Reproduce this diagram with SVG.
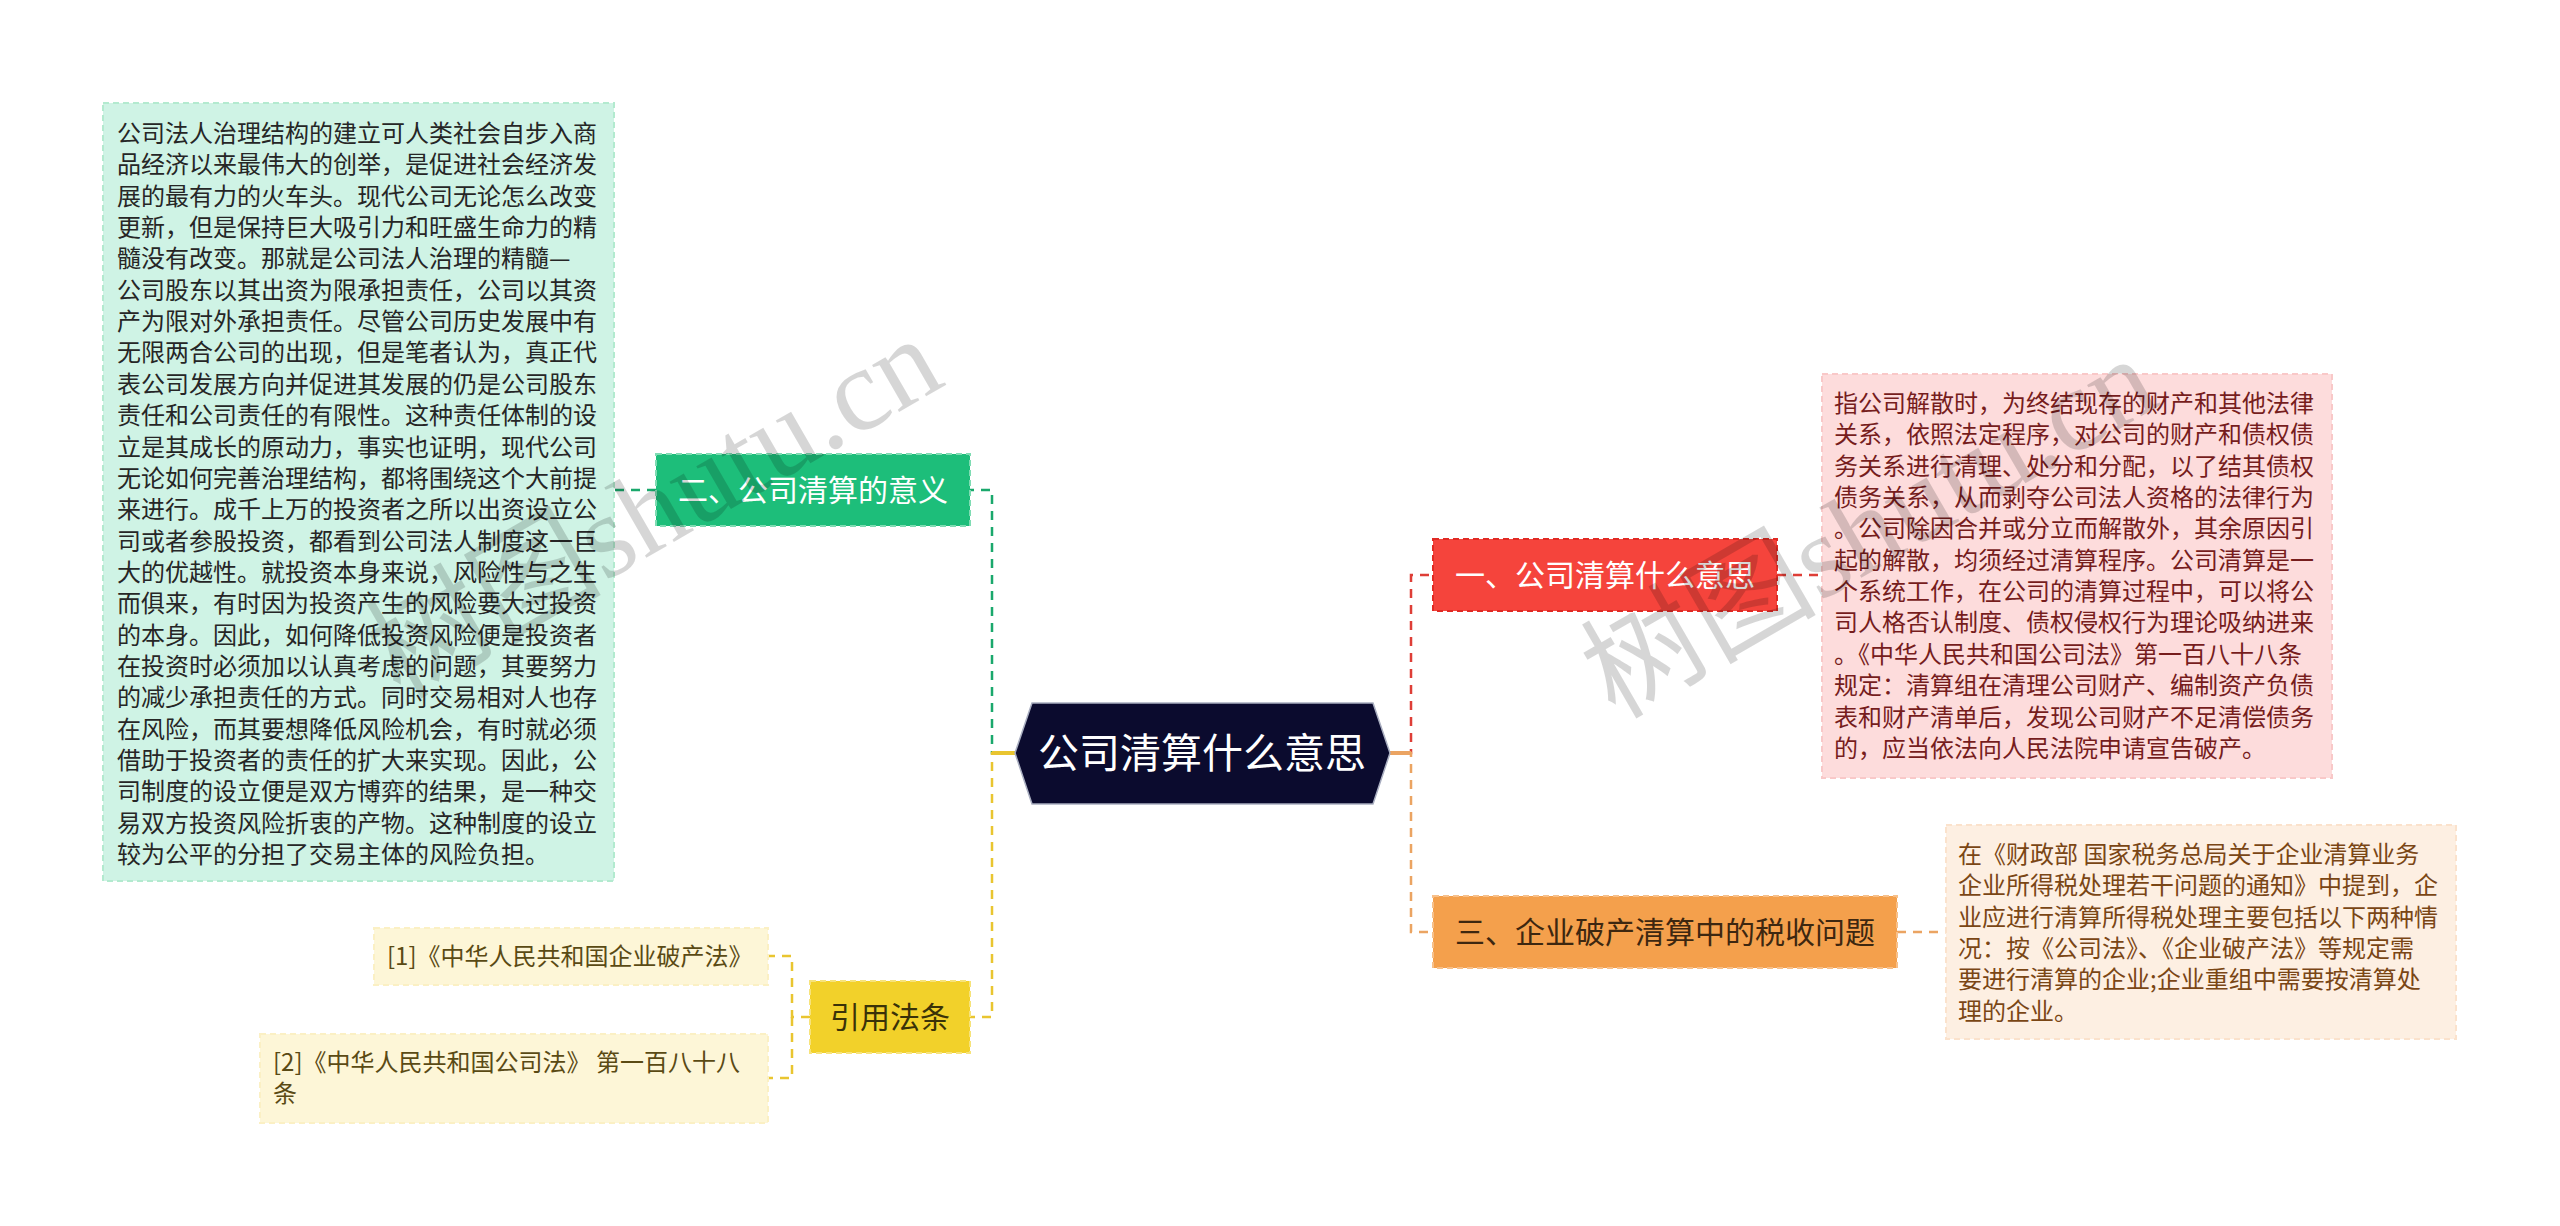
<svg xmlns="http://www.w3.org/2000/svg" width="2560" height="1226" viewBox="0 0 2560 1226">
<style>
text { font-family: "Noto Sans CJK SC", "Noto Sans", sans-serif; }
.body { font-size: 24px; }
.lvl1 { font-size: 30px; text-anchor: middle; }
.root { font-size: 41px; text-anchor: middle; fill: #ffffff; }
.conn { fill: none; stroke-width: 2.5; stroke-dasharray: 9 7; }
.stub { fill: none; stroke-width: 4; }
.box { stroke-width: 2; stroke-dasharray: 6 4; }
.wm { font-family: "Liberation Serif", "Noto Sans CJK SC", serif; font-size: 118px; fill: #000000; fill-opacity: 0.16; }
</style>
<rect x="0" y="0" width="2560" height="1226" fill="#ffffff"/>

<g id="connectors">
  <path class="conn" stroke="#1aa86c" d="M1015 753 H992 V490 H970"/>
  <path class="conn" stroke="#1aa86c" d="M656 490 H614"/>
  <path class="conn" stroke="#e9c530" d="M1015 753 H992 V1017 H970"/>
  <path class="conn" stroke="#e9c530" d="M810 1017 H792 V956 H768"/>
  <path class="conn" stroke="#e9c530" d="M792 1017 V1078 H768"/>
  <path class="conn" stroke="#de3e37" d="M1390 753 H1411 V575 H1433"/>
  <path class="conn" stroke="#de3e37" d="M1777 575 H1822"/>
  <path class="conn" stroke="#eba462" d="M1390 753 H1411 V932 H1433"/>
  <path class="conn" stroke="#eba462" d="M1897 932 H1946"/>
  <path class="stub" stroke="#e9c530" d="M992 753 H1016"/>
  <path class="stub" stroke="#eba462" d="M1389 753 H1411"/>
</g>

<g id="root">
  <polygon points="1015,753 1032,703 1373,703 1390,753 1373,804 1032,804" fill="#0b0b2e" stroke="#a9aec0" stroke-width="1.5"/>
  <text class="root" x="1202" y="768">公司清算什么意思</text>
</g>

<g id="node-meaning">
  <rect x="656" y="454" width="314" height="72" fill="#1dbe7a" stroke="#7fdcb3" class="box"/>
  <text class="lvl1" x="813" y="501" fill="#ffffff">二、公司清算的意义</text>
</g>

<g id="text-meaning">
  <rect x="103" y="103" width="511" height="778" fill="#cff3e5" stroke="#b3eacf" class="box"/>
  <text class="body" fill="#262626">
    <tspan x="117" y="142">公司法人治理结构的建立可人类社会自步入商</tspan>
    <tspan x="117" dy="31.35">品经济以来最伟大的创举，是促进社会经济发</tspan>
    <tspan x="117" dy="31.35">展的最有力的火车头。现代公司无论怎么改变</tspan>
    <tspan x="117" dy="31.35">更新，但是保持巨大吸引力和旺盛生命力的精</tspan>
    <tspan x="117" dy="31.35">髓没有改变。那就是公司法人治理的精髓—</tspan>
    <tspan x="117" dy="31.35">公司股东以其出资为限承担责任，公司以其资</tspan>
    <tspan x="117" dy="31.35">产为限对外承担责任。尽管公司历史发展中有</tspan>
    <tspan x="117" dy="31.35">无限两合公司的出现，但是笔者认为，真正代</tspan>
    <tspan x="117" dy="31.35">表公司发展方向并促进其发展的仍是公司股东</tspan>
    <tspan x="117" dy="31.35">责任和公司责任的有限性。这种责任体制的设</tspan>
    <tspan x="117" dy="31.35">立是其成长的原动力，事实也证明，现代公司</tspan>
    <tspan x="117" dy="31.35">无论如何完善治理结构，都将围绕这个大前提</tspan>
    <tspan x="117" dy="31.35">来进行。成千上万的投资者之所以出资设立公</tspan>
    <tspan x="117" dy="31.35">司或者参股投资，都看到公司法人制度这一巨</tspan>
    <tspan x="117" dy="31.35">大的优越性。就投资本身来说，风险性与之生</tspan>
    <tspan x="117" dy="31.35">而俱来，有时因为投资产生的风险要大过投资</tspan>
    <tspan x="117" dy="31.35">的本身。因此，如何降低投资风险便是投资者</tspan>
    <tspan x="117" dy="31.35">在投资时必须加以认真考虑的问题，其要努力</tspan>
    <tspan x="117" dy="31.35">的减少承担责任的方式。同时交易相对人也存</tspan>
    <tspan x="117" dy="31.35">在风险，而其要想降低风险机会，有时就必须</tspan>
    <tspan x="117" dy="31.35">借助于投资者的责任的扩大来实现。因此，公</tspan>
    <tspan x="117" dy="31.35">司制度的设立便是双方博弈的结果，是一种交</tspan>
    <tspan x="117" dy="31.35">易双方投资风险折衷的产物。这种制度的设立</tspan>
    <tspan x="117" dy="31.35">较为公平的分担了交易主体的风险负担。</tspan>
  </text>
</g>

<g id="node-refs">
  <rect x="810" y="981" width="160" height="72" fill="#f2d12a" stroke="#f7e37a" class="box"/>
  <text class="lvl1" x="890" y="1028" fill="#3a3208">引用法条</text>
</g>

<g id="ref-1">
  <rect x="374" y="928" width="394" height="57" fill="#fdf6d7" stroke="#fbf0c4" class="box"/>
  <text class="body" x="387" y="965" fill="#5a4a14">[1]《中华人民共和国企业破产法》</text>
</g>

<g id="ref-2">
  <rect x="260" y="1034" width="508" height="89" fill="#fdf6d7" stroke="#fbf0c4" class="box"/>
  <text class="body" fill="#5a4a14">
    <tspan x="273" y="1071">[2]《中华人民共和国公司法》 第一百八十八</tspan>
    <tspan x="273" dy="31.35">条</tspan>
  </text>
</g>

<g id="node-what">
  <rect x="1433" y="539" width="344" height="72" fill="#f5443c" stroke="#e02a24" class="box"/>
  <text class="lvl1" x="1605" y="586" fill="#ffffff">一、公司清算什么意思</text>
</g>

<g id="text-what">
  <rect x="1822" y="374" width="510" height="404" fill="#fddcdc" stroke="#f9c8c8" class="box"/>
  <text class="body" fill="#761d1d">
    <tspan x="1834" y="412">指公司解散时，为终结现存的财产和其他法律</tspan>
    <tspan x="1834" dy="31.35">关系，依照法定程序，对公司的财产和债权债</tspan>
    <tspan x="1834" dy="31.35">务关系进行清理、处分和分配，以了结其债权</tspan>
    <tspan x="1834" dy="31.35">债务关系，从而剥夺公司法人资格的法律行为</tspan>
    <tspan x="1834" dy="31.35">。公司除因合并或分立而解散外，其余原因引</tspan>
    <tspan x="1834" dy="31.35">起的解散，均须经过清算程序。公司清算是一</tspan>
    <tspan x="1834" dy="31.35">个系统工作，在公司的清算过程中，可以将公</tspan>
    <tspan x="1834" dy="31.35">司人格否认制度、债权侵权行为理论吸纳进来</tspan>
    <tspan x="1834" dy="31.35">。《中华人民共和国公司法》第一百八十八条</tspan>
    <tspan x="1834" dy="31.35">规定：清算组在清理公司财产、编制资产负债</tspan>
    <tspan x="1834" dy="31.35">表和财产清单后，发现公司财产不足清偿债务</tspan>
    <tspan x="1834" dy="31.35">的，应当依法向人民法院申请宣告破产。</tspan>
  </text>
</g>

<g id="node-tax">
  <rect x="1433" y="896" width="464" height="72" fill="#f4a04c" stroke="#f7c08a" class="box"/>
  <text class="lvl1" x="1665" y="943" fill="#3d2710">三、企业破产清算中的税收问题</text>
</g>

<g id="text-tax">
  <rect x="1946" y="825" width="510" height="214" fill="#fdefe2" stroke="#fbe2cc" class="box"/>
  <text class="body" fill="#7a4615">
    <tspan x="1958" y="863">在《财政部 国家税务总局关于企业清算业务</tspan>
    <tspan x="1958" dy="31.35">企业所得税处理若干问题的通知》中提到，企</tspan>
    <tspan x="1958" dy="31.35">业应进行清算所得税处理主要包括以下两种情</tspan>
    <tspan x="1958" dy="31.35">况：按《公司法》、《企业破产法》等规定需</tspan>
    <tspan x="1958" dy="31.35">要进行清算的企业;企业重组中需要按清算处</tspan>
    <tspan x="1958" dy="31.35">理的企业。</tspan>
  </text>
</g>

<g id="watermarks">
  <text class="wm" x="0" y="0" transform="translate(400 700) rotate(-30)">树图shutu.cn</text>
  <text class="wm" x="0" y="0" transform="translate(1615 720) rotate(-30)">树图shutu.cn</text>
</g>
</svg>
